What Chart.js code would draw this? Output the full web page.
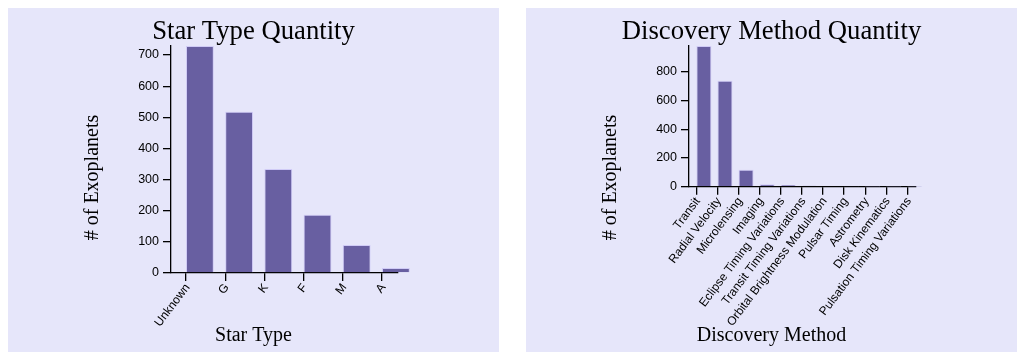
<!DOCTYPE html>
<html><head><meta charset="utf-8">
<script src="https://cdn.jsdelivr.net/npm/chart.js@4.4.1/dist/chart.umd.min.js"></script>
<style>
html,body{margin:0;padding:0;background:#fff;width:1024px;height:359px;overflow:hidden}
.panel{position:absolute;top:8px;width:491px;height:344px;background:#E6E6FA}
#p1{left:8px}
#p2{left:526px}
canvas{display:block}
</style></head><body>
<div class="panel" id="p1"><canvas id="c1" width="491" height="344"></canvas></div>
<div class="panel" id="p2"><canvas id="c2" width="491" height="344"></canvas></div>
<script>
// ---- data ----
const starTypes = ['Unknown', 'G', 'K', 'F', 'M', 'A'];
const starCounts = [729, 518, 334, 187, 90, 16];
const starTicks = [0, 100, 200, 300, 400, 500, 600, 700];

const methods = ['Transit', 'Radial Velocity', 'Microlensing', 'Imaging',
  'Eclipse Timing Variations', 'Transit Timing Variations',
  'Orbital Brightness Modulation', 'Pulsar Timing', 'Astrometry',
  'Disk Kinematics', 'Pulsation Timing Variations'];
const methodCounts = [979, 737, 118, 17, 12, 7, 5, 3, 1, 1, 1];
const methodTicks = [0, 200, 400, 600, 800];

// ---- styling / layout ----
const SANS = '"Liberation Sans", Arial, Helvetica, sans-serif';
const SERIF = '"Liberation Serif", "Times New Roman", Times, serif';
const BAR_FILL = 'rgba(72,61,139,0.8)';
const BAR_EDGE = 'rgba(205,200,245,0.9)';
const AREA = {left: 163, right: 390, top: 38};
const BAR_RATIO = 0.71;
const LABEL_ROT = 53;

const axisTitles = {
  id: 'axisTitles',
  afterDraw(chart, args, o) {
    const ctx = chart.ctx;
    ctx.save();
    ctx.fillStyle = '#000';
    ctx.font = '20px ' + SERIF;
    ctx.textAlign = 'center';
    ctx.textBaseline = 'alphabetic';
    ctx.fillText(o.x, chart.width / 2, o.xBaseline);
    ctx.translate(o.yBaseline, o.yCenter);
    ctx.rotate(-Math.PI / 2);
    ctx.fillText(o.y, 0, 0);
    ctx.restore();
  }
};

function makeChart(id, cfg) {
  const W = AREA.right - AREA.left;
  const xMin = -cfg.first / cfg.step;
  const xMax = (W - cfg.first) / cfg.step;
  const half = BAR_RATIO / 2;
  const indexTicks = s => { s.ticks = cfg.labels.map((_, i) => ({value: i})); };
  const axisLine = {display: true, color: '#000', width: 1.3};
  const tickGrid = {display: true, offset: false, drawOnChartArea: false, drawTicks: true, tickLength: 8, color: '#000', lineWidth: 1.3};
  return new Chart(document.getElementById(id), {
    type: 'bar',
    data: {
      datasets: [{
        data: cfg.values.map((v, i) => ({x: i, y: v})),
        xAxisID: 'xb',
        yAxisID: 'y',
        backgroundColor: BAR_FILL,
        borderColor: BAR_EDGE,
        borderWidth: 1,
        categoryPercentage: 1,
        barPercentage: BAR_RATIO,
        clip: false
      }]
    },
    options: {
      responsive: false,
      animation: false,
      devicePixelRatio: 1,
      layout: {padding: 0},
      plugins: {
        legend: {display: false},
        tooltip: {enabled: false},
        title: {
          display: true, text: cfg.title, color: '#000',
          font: {family: SERIF, size: 26.7, weight: 'normal', lineHeight: 1.0},
          padding: {top: 10.9, bottom: 0.4}
        },
        axisTitles: {x: cfg.xTitle, y: cfg.yTitle, xBaseline: 333, yBaseline: 90, yCenter: 169.5}
      },
      scales: {
        xb: {
          type: 'linear', display: false, offset: false,
          grid: {offset: false},
          min: xMin - half, max: xMax - half,
          afterBuildTicks: indexTicks
        },
        x: {
          type: 'linear', position: 'bottom', offset: false,
          min: xMin, max: xMax,
          afterBuildTicks: indexTicks,
          afterFit: s => { s.height = 344 - cfg.bottom; },
          ticks: {
            autoSkip: false, maxRotation: LABEL_ROT, minRotation: LABEL_ROT,
            padding: 0, labelOffset: 1.5,
            color: '#000', font: {family: SANS, size: 12},
            callback: v => cfg.labels[v]
          },
          grid: tickGrid,
          border: axisLine
        },
        y: {
          type: 'linear', position: 'left',
          min: 0, max: Math.max(...cfg.values),
          afterBuildTicks: s => { s.ticks = cfg.yTicks.map(v => ({value: v})); },
          afterFit: s => { s.width = AREA.left; },
          ticks: {padding: 4, color: '#000', font: {family: SANS, size: 12.5}},
          grid: tickGrid,
          border: axisLine
        },
        gutter: {
          type: 'linear', position: 'right', display: true,
          grid: {display: false}, border: {display: false},
          ticks: {display: false},
          afterFit: s => { s.width = 491 - AREA.right; }
        }
      }
    },
    plugins: [axisTitles]
  });
}

makeChart('c1', {
  title: 'Star Type Quantity', xTitle: 'Star Type', yTitle: '# of Exoplanets',
  labels: starTypes, values: starCounts, yTicks: starTicks,
  step: 39.2, first: 15, bottom: 265
});
makeChart('c2', {
  title: 'Discovery Method Quantity', xTitle: 'Discovery Method', yTitle: '# of Exoplanets',
  labels: methods, values: methodCounts, yTicks: methodTicks,
  step: 21.1, first: 7.4, bottom: 178.7
});
</script>
</body></html>
